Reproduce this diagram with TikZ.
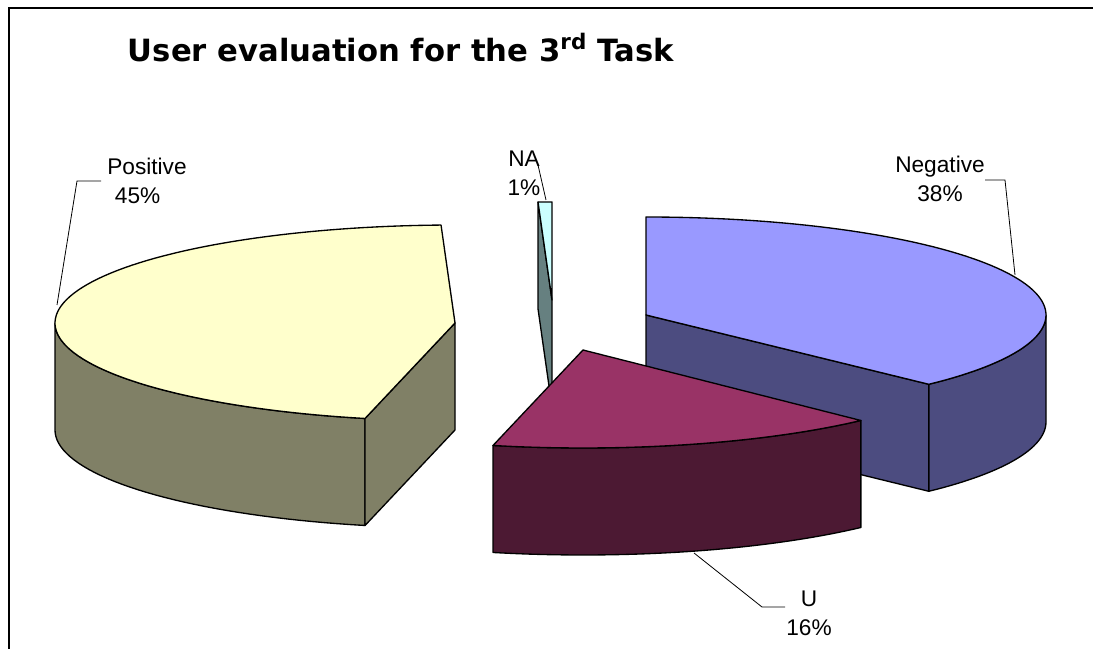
\documentclass[tikz,border=0pt]{standalone}
\usepackage{fontspec}
\setmainfont{Liberation Sans}
\newfontfamily\titlefont{DejaVu Sans}
\definecolor{posTop}{HTML}{FFFFCC}
\definecolor{posSide}{HTML}{808066}
\definecolor{negTop}{HTML}{9999FF}
\definecolor{negSide}{HTML}{4C4C80}
\definecolor{uTop}{HTML}{993366}
\definecolor{uSide}{HTML}{4C1933}
\definecolor{naTop}{HTML}{CCFFFF}
\definecolor{naSide}{HTML}{668080}
\tikzset{
  face/.style={draw=black, line width=1pt, line join=round},
  leader/.style={draw=black, line width=0.6pt},
  lbl/.style={font=\fontsize{17}{21.75}\selectfont, align=center, inner sep=0pt},
  frame/.style={draw=black, line width=1.5pt}
}
\begin{document}
\begin{tikzpicture}[x=0.75pt,y=0.75pt]
\useasboundingbox (0,0) rectangle (1093,649);
\draw[frame] (9,0) -- (9,641) -- (1093,641);
\node[font=\titlefont\bfseries\fontsize{23}{28}\selectfont] (title) at (401,601) {User evaluation for the 3\textsuperscript{rd} Task};
% NA slice
\filldraw[face, fill=naSide] (552,349) -- ({552+400*cos(92)},{349+98*sin(92)}) -- ++(0,-107) -- (552,242) -- cycle;
\filldraw[face, fill=naTop] (552,349) -- (552,447) -- ({552+400*cos(92)},{349+98*sin(92)}) -- cycle;
% Negative slice
\filldraw[face, fill=negSide] (646,334) -- ({646+400*cos(-45)},{334+98*sin(-45)}) -- ++(0,-107) -- (646,227) -- cycle;
\filldraw[face, fill=negSide] plot[domain=-45:0, samples=30] ({646+400*cos(\x)},{334+98*sin(\x)}) -- plot[domain=0:-45, samples=30] ({646+400*cos(\x)},{227+98*sin(\x)}) -- cycle;
\filldraw[face, fill=negTop] (646,334) -- plot[domain=-45:90, samples=80] ({646+400*cos(\x)},{334+98*sin(\x)}) -- cycle;
% Positive slice
\filldraw[face, fill=posSide] plot[domain=180:257, samples=40] ({455+400*cos(\x)},{326+98*sin(\x)}) -- plot[domain=257:180, samples=40] ({455+400*cos(\x)},{219+98*sin(\x)}) -- cycle;
\filldraw[face, fill=posSide] (455,326) -- ({455+400*cos(257)},{326+98*sin(257)}) -- ++(0,-107) -- (455,219) -- cycle;
\filldraw[face, fill=posTop] (455,326) -- plot[domain=92:257, samples=90] ({455+400*cos(\x)},{326+98*sin(\x)}) -- cycle;
% U slice
\filldraw[face, fill=uSide] plot[domain=-103:-46, samples=40] ({583+400*cos(\x)},{299+98*sin(\x)}) -- plot[domain=-46:-103, samples=40] ({583+400*cos(\x)},{192+98*sin(\x)}) -- cycle;
\filldraw[face, fill=uTop] (583,299) -- plot[domain=-103:-46, samples=40] ({583+400*cos(\x)},{299+98*sin(\x)}) -- cycle;
% labels
\node[lbl] (posL) at (147,468) {Positive\\45\%\hspace*{14pt}};
\node[lbl] (negL) at (940,470) {Negative\\38\%};
\node[lbl] (naL) at (524,476) {NA\\1\%};
\node[lbl] (uL) at (809,36) {U\\16\%};
% leader lines
\coordinate (posA) at (101,468); \coordinate (posB) at (77,468); \coordinate (posC) at (57,344);
\coordinate (negA) at (985,469); \coordinate (negB) at (1005,469); \coordinate (negC) at (1015,374);
\coordinate (naA) at (538,484); \coordinate (naC) at (546,449);
\coordinate (uA) at (785,42); \coordinate (uB) at (762,42); \coordinate (uC) at (694,96);
\draw[leader] (posA) -- (posB) -- (posC);
\draw[leader] (negA) -- (negB) -- (negC);
\draw[leader] (naA) -- (naC);
\draw[leader] (uA) -- (uB) -- (uC);
\end{tikzpicture}
\end{document}
